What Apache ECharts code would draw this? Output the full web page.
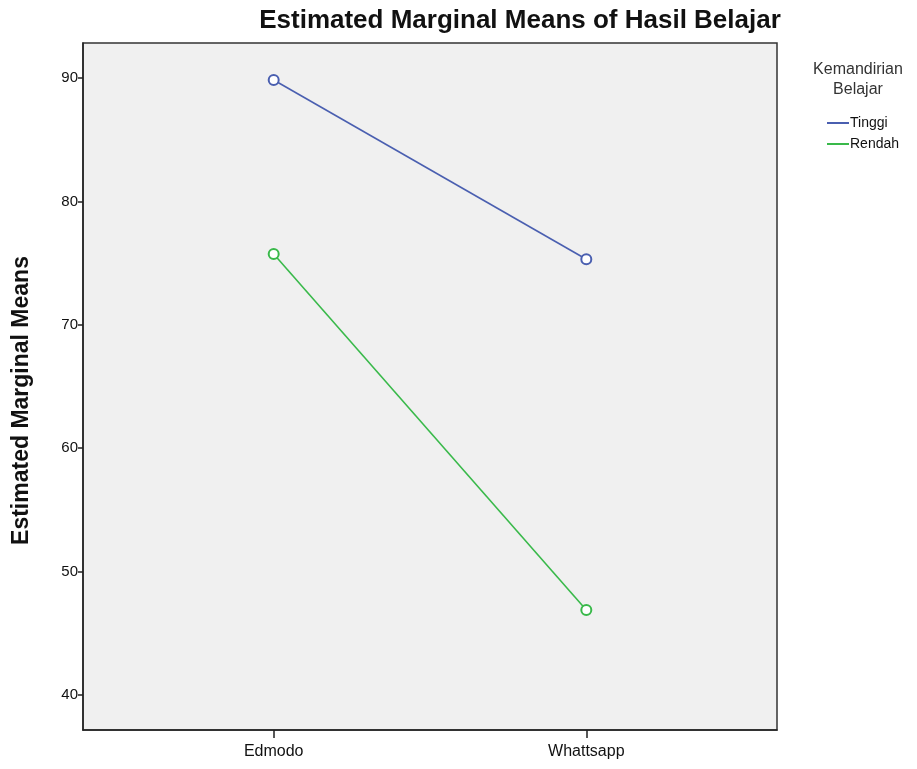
<!DOCTYPE html>
<html>
<head>
<meta charset="utf-8">
<script src="https://cdn.jsdelivr.net/npm/echarts@6/dist/echarts.min.js"></script>
<style>html,body{margin:0;padding:0;background:#fff}#c{width:917px;height:769px}</style>
</head>
<body>
<div id="c"></div>
<script>
var categories = ['Edmodo', 'Whattsapp'];
var categoryPos = [1, 2];
var seriesNames = ['Tinggi', 'Rendah'];
var tinggiValues = [89.85, 75.32];
var rendahValues = [75.75, 46.88];
var yTicks = [40, 50, 60, 70, 80, 90];

var colors = ['#4a5fb0', '#39b94a'];
function pts(vals){ return vals.map(function(v,i){ return [categoryPos[i], v]; }); }

var chart = echarts.init(document.getElementById('c'), null, {renderer:'canvas'});
var font = 'Arial, "Liberation Sans", sans-serif';
chart.setOption({
  animation: false,
  backgroundColor: '#fff',
  title: [{
    text: 'Estimated Marginal Means of Hasil Belajar',
    left: 515, top: 3, textAlign: 'center',
    textStyle: {fontFamily: font, fontSize: 26, fontWeight: 'bold', color: '#111'}
  },{
    text: 'Kemandirian\nBelajar',
    left: 853, top: 55, textAlign: 'center',
    textStyle: {fontFamily: font, fontSize: 16, fontWeight: 'normal', color: '#333', lineHeight: 20, align: 'center'}
  }],
  legend: {
    orient: 'vertical', left: 822, top: 111,
    itemWidth: 22, itemHeight: 2, itemGap: 7, icon: 'rect',
    textStyle: {fontFamily: font, fontSize: 14, color: '#111', padding: [0,0,0,-4]},
    data: seriesNames
  },
  grid: {left: 83, top: 43, right: 140, bottom: 39, show: true,
    backgroundColor: '#f0f0f0', borderColor: '#333', borderWidth: 1.5},
  xAxis: {
    type: 'value', min: 0.39, max: 2.61,
    axisLine: {show: true, lineStyle: {color: '#222', width: 1.5}},
    splitLine: {show: false},
    axisTick: {show: true, length: 8, customValues: categoryPos, lineStyle: {color: '#222', width: 1.5}},
    axisLabel: {customValues: categoryPos, margin: 14, fontFamily: font, fontSize: 16, color: '#111',
      formatter: function(v){ var i = categoryPos.indexOf(v); return i >= 0 ? categories[i] : ''; }}
  },
  yAxis: {
    type: 'value', min: 37.15, max: 92.85,
    name: 'Estimated Marginal Means', nameLocation: 'middle', nameGap: 50, nameRotate: 90,
    nameTextStyle: {fontFamily: font, fontSize: 23, fontWeight: 'bold', color: '#111', padding: [0, 28, 0, 0]},
    axisLine: {show: true, lineStyle: {color: '#222', width: 1.5}},
    splitLine: {show: false},
    axisTick: {show: true, length: 5, customValues: yTicks, lineStyle: {color: '#222', width: 1.5}},
    axisLabel: {customValues: yTicks, margin: 5, fontFamily: font, fontSize: 15, color: '#111'}
  },
  series: [{
    name: seriesNames[0], type: 'line', data: pts(tinggiValues),
    symbol: 'emptyCircle', symbolSize: 10,
    lineStyle: {color: colors[0], width: 1.6},
    itemStyle: {color: colors[0], borderWidth: 1.5}
  },{
    name: seriesNames[1], type: 'line', data: pts(rendahValues),
    symbol: 'emptyCircle', symbolSize: 10,
    lineStyle: {color: colors[1], width: 1.6},
    itemStyle: {color: colors[1], borderWidth: 1.5}
  }]
});
</script>
</body>
</html>
